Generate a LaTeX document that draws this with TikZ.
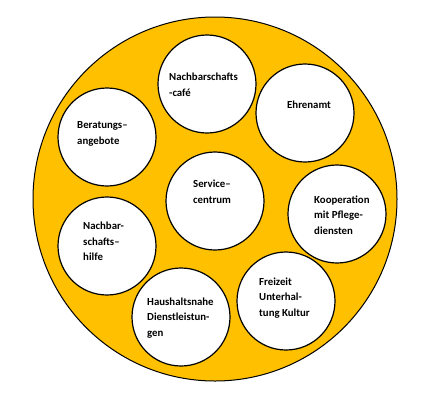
\documentclass[tikz,border=0pt]{standalone}
\usepackage{fontspec}
\setmainfont{Carlito}
\definecolor{gold}{HTML}{FFC000}
\begin{document}
\begin{tikzpicture}[x=1pt,y=-1pt,
  outer/.style={circle,draw=black,line width=1pt,fill=gold,minimum size=364pt,inner sep=0pt},
  bubble/.style={circle,draw=black,line width=1.2pt,fill=white,minimum size=98pt,inner sep=0pt},
  txt/.style={anchor=west,align=left,inner sep=0pt,font=\fontsize{10.8}{15.5}\selectfont\bfseries}]
\useasboundingbox (0,0) rectangle (422,405);
\node[outer] (big) at (215,199) {};
\node[bubble] (cafe) at (207,84) {};
\node[bubble] (ehren) at (305,113) {};
\node[bubble] (berat) at (107,137) {};
\node[bubble] (service) at (215,201) {};
\node[bubble] (koop) at (337,214) {};
\node[bubble] (hilfe) at (107,246) {};
\node[bubble] (haus) at (181,317) {};
\node[bubble] (frei) at (286,301) {};
\node[txt] (tcafe) at (169,84.5) {Nachbarschafts\\-café};
\node[txt] (tehren) at (287,105) {Ehrenamt};
\node[txt] (tberat) at (77,134) {Beratungs–\\angebote};
\node[txt] (tservice) at (193,191.5) {Service–\\centrum};
\node[txt] (tkoop) at (314,215) {Kooperation\\mit Pflege-\\diensten};
\node[txt] (thilfe) at (83,241.5) {Nachbar-\\schafts–\\hilfe};
\node[txt] (thaus) at (147,318) {Haushaltsnahe\\Dienstleistun-\\gen};
\node[txt] (tfrei) at (259,298) {Freizeit\\Unterhal-\\tung Kultur};
\end{tikzpicture}
\end{document}
